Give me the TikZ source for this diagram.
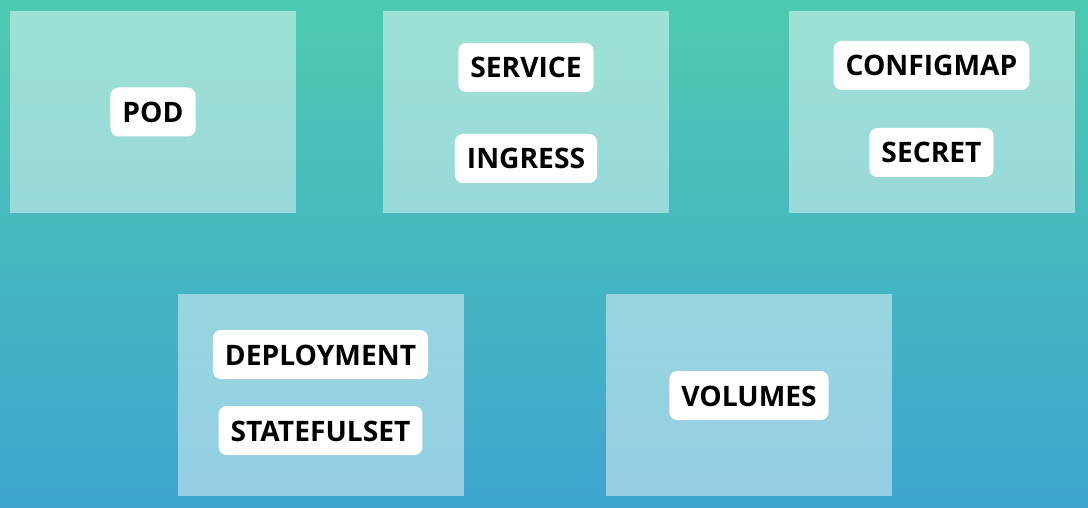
\documentclass[tikz,border=0pt]{standalone}
\usepackage{fontspec}
\setmainfont{Open Sans}
\definecolor{bgTop}{RGB}{78,202,176}
\definecolor{bgBottom}{RGB}{61,165,208}
\begin{document}
\begin{tikzpicture}[x=1pt, y=-1pt,
    boxStyle/.style={rectangle, fill=white, fill opacity=0.45, minimum width=286pt, minimum height=202pt, inner sep=0pt},
    labelStyle/.style={rectangle, rounded corners=8pt, fill=white, text=black, inner xsep=12pt, inner ysep=14pt,
        text height=21pt, text depth=0pt, font=\fontsize{28.2}{34}\selectfont\bfseries}]
    \fill[top color=bgTop, bottom color=bgBottom] (0,0) rectangle (1088,508);
    \useasboundingbox (0,0) rectangle (1088,508);

    \node[boxStyle](pods) at (153, 112) {};
    \node[boxStyle](net) at (526, 112) {};
    \node[boxStyle](conf) at (932, 112) {};
    \node[boxStyle](work) at (321, 395) {};
    \node[boxStyle](store) at (749, 395) {};

    \node[labelStyle](pod) at (153, 112) {POD};
    \node[labelStyle](service) at (526, 67.5) {SERVICE};
    \node[labelStyle](ingress) at (526, 158.5) {INGRESS};
    \node[labelStyle](configmap) at (931.5, 65.5) {CONFIGMAP};
    \node[labelStyle](secret) at (931.5, 152.5) {SECRET};
    \node[labelStyle](deployment) at (320.5, 354.5) {DEPLOYMENT};
    \node[labelStyle](statefulset) at (320.5, 430.5) {STATEFULSET};
    \node[labelStyle](volumes) at (749, 395.5) {VOLUMES};
\end{tikzpicture}
\end{document}
